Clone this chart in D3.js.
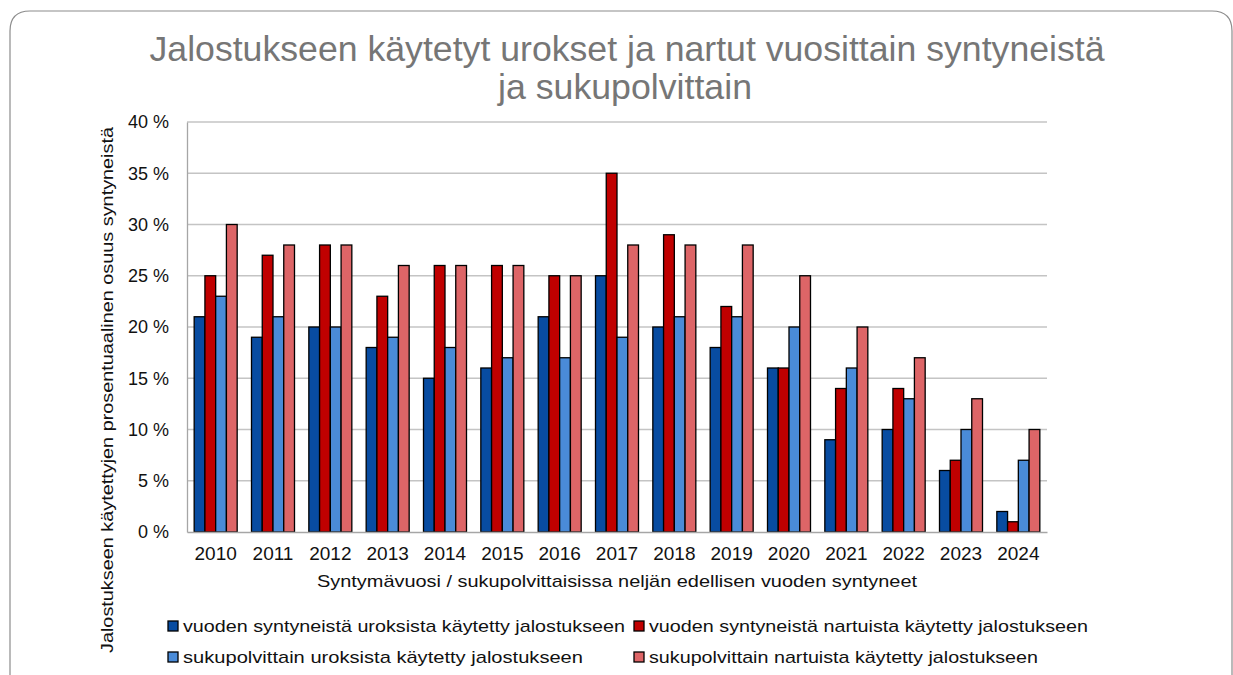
<!DOCTYPE html>
<html>
<head>
<meta charset="utf-8">
<script src="https://cdn.jsdelivr.net/npm/d3@7"></script>
<style>
  body { margin: 0; background: #fff; }
  svg { display: block; font-family: "Liberation Sans", Arial, sans-serif; }
</style>
</head>
<body>
<script>
// Data
const years = ["2010","2011","2012","2013","2014","2015","2016","2017","2018","2019","2020","2021","2022","2023","2024"];
const seriesNames = [
  "vuoden syntyneistä uroksista käytetty jalostukseen",
  "vuoden syntyneistä nartuista käytetty jalostukseen",
  "sukupolvittain uroksista käytetty jalostukseen",
  "sukupolvittain nartuista käytetty jalostukseen"
];
const yearMales   = [21, 19, 20, 18, 15, 16, 21, 25, 20, 18, 16,  9, 10,  6,  2];
const yearFemales = [25, 27, 28, 23, 26, 26, 25, 35, 29, 22, 16, 14, 14,  7,  1];
const genMales    = [23, 21, 20, 19, 18, 17, 17, 19, 21, 21, 20, 16, 13, 10,  7];
const genFemales  = [30, 28, 28, 26, 26, 26, 25, 28, 28, 28, 25, 20, 17, 13, 10];
const yTicks = [0, 5, 10, 15, 20, 25, 30, 35, 40];
const colors = ["#084ca1", "#c00000", "#4a8bd8", "#dd6567"];

const seriesValues = [yearMales, yearFemales, genMales, genFemales];

// Layout
const W = 1233, H = 675;
const plot = { left: 187, right: 1047, top: 122, bottom: 532 };

const svg = d3.select("body").append("svg")
  .attr("width", W).attr("height", H);

// frame
svg.append("path")
  .attr("d", `M10,${H + 5} L10,31 Q10,11 30,11 L1212,11 Q1232,11 1232,31 L1232,${H + 5}`)
  .attr("fill", "none")
  .attr("stroke", "#8c8c8c")
  .attr("stroke-width", 1.2);

// Title
svg.append("text")
  .attr("x", 627).attr("y", 61)
  .attr("text-anchor", "middle")
  .attr("font-size", 35)
  .attr("fill", "#767676")
  .attr("textLength", 955).attr("lengthAdjust", "spacingAndGlyphs")
  .text("Jalostukseen käytetyt urokset ja nartut vuosittain syntyneistä");
svg.append("text")
  .attr("x", 625).attr("y", 99)
  .attr("text-anchor", "middle")
  .attr("font-size", 35)
  .attr("fill", "#767676")
  .attr("textLength", 254).attr("lengthAdjust", "spacingAndGlyphs")
  .text("ja sukupolvittain");

// Scales
const x0 = d3.scaleBand().domain(years)
  .range([plot.left, plot.right])
  .paddingInner(0.25).paddingOuter(0.125);
const x1 = d3.scaleBand().domain(d3.range(seriesNames.length))
  .range([0, x0.bandwidth()]);
const y = d3.scaleLinear().domain([0, 40]).range([plot.bottom, plot.top]);

// Gridlines
svg.append("g").selectAll("line")
  .data(yTicks.filter(d => d > 0))
  .join("line")
  .attr("x1", plot.left).attr("x2", plot.right)
  .attr("y1", d => y(d)).attr("y2", d => y(d))
  .attr("stroke", "#c4c4c4").attr("stroke-width", 1.3);

// Y axis
const yAxis = svg.append("g")
  .attr("transform", `translate(${plot.left},0)`)
  .call(d3.axisLeft(y).tickValues(yTicks).tickSize(0).tickPadding(18)
    .tickFormat(d => d + " %"));
yAxis.select(".domain").attr("stroke", "#a6a6a6").attr("stroke-width", 1.3);
yAxis.selectAll("text").attr("font-size", 18).attr("fill", "#111")
  .attr("font-family", "Liberation Sans, Arial, sans-serif");

// Bars
const groups = svg.append("g").selectAll("g")
  .data(years)
  .join("g")
  .attr("transform", d => `translate(${x0(d)},0)`);
groups.selectAll("rect")
  .data((d, i) => seriesValues.map((s, k) => ({ k, v: s[i] })))
  .join("rect")
  .attr("x", d => x1(d.k))
  .attr("width", x1.bandwidth())
  .attr("y", d => y(d.v))
  .attr("height", d => y(0) - y(d.v))
  .attr("fill", d => colors[d.k])
  .attr("stroke", "#000")
  .attr("stroke-width", 1.3);

// X axis
const xAxis = svg.append("g")
  .attr("transform", `translate(0,${plot.bottom})`)
  .call(d3.axisBottom(x0).tickSize(0).tickPadding(15));
xAxis.select(".domain").attr("stroke", "#a6a6a6").attr("stroke-width", 1.3);
xAxis.selectAll("text").attr("font-size", 19).attr("fill", "#111")
  .attr("font-family", "Liberation Sans, Arial, sans-serif");

// Axis titles
svg.append("text")
  .attr("x", (plot.left + plot.right) / 2).attr("y", 587)
  .attr("text-anchor", "middle")
  .attr("font-size", 17).attr("fill", "#111")
  .attr("textLength", 600).attr("lengthAdjust", "spacingAndGlyphs")
  .text("Syntymävuosi / sukupolvittaisissa neljän edellisen vuoden syntyneet");

svg.append("text")
  .attr("transform", "translate(113,390) rotate(-90)")
  .attr("text-anchor", "middle")
  .attr("font-size", 17).attr("fill", "#111")
  .attr("textLength", 526).attr("lengthAdjust", "spacingAndGlyphs")
  .text("Jalostukseen käytettyjen prosentuaalinen osuus syntyneistä");

// Legend
const legendPos = [
  { x: 168, y: 626, w: 442 },
  { x: 634, y: 626, w: 439 },
  { x: 168, y: 657, w: 400 },
  { x: 634, y: 657, w: 389 }
];
const legend = svg.append("g").selectAll("g")
  .data(seriesNames)
  .join("g")
  .attr("transform", (d, i) => `translate(${legendPos[i].x},${legendPos[i].y})`);
legend.append("rect")
  .attr("x", 0).attr("y", -5)
  .attr("width", 10).attr("height", 10)
  .attr("fill", (d, i) => colors[i])
  .attr("stroke", "#000").attr("stroke-width", 1.3);
legend.append("text")
  .attr("x", 15).attr("y", 6)
  .attr("font-size", 17).attr("fill", "#111")
  .attr("textLength", (d, i) => legendPos[i].w)
  .attr("lengthAdjust", "spacingAndGlyphs")
  .text(d => d);
</script>
</body>
</html>
